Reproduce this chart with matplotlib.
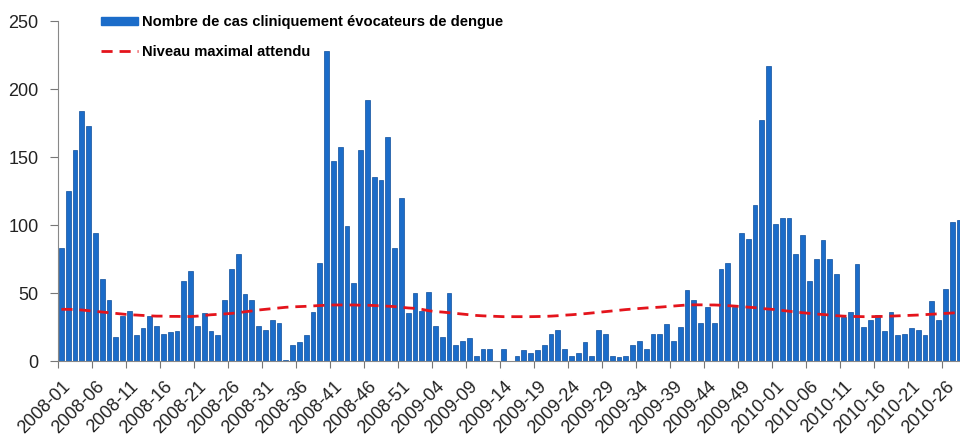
import matplotlib
matplotlib.use("Agg")
import matplotlib.pyplot as plt
from matplotlib.lines import Line2D
from matplotlib.patches import Patch

# ---- data ----
weeks_2008 = [f"2008-{w:02d}" for w in range(1, 53)]
weeks_2009 = [f"2009-{w:02d}" for w in range(1, 54)]
weeks_2010 = [f"2010-{w:02d}" for w in range(1, 29)]
weeks = weeks_2008 + weeks_2009 + weeks_2010

cases_2008 = [83, 125, 155, 184, 173, 94, 60, 45, 18, 33, 37, 19, 24, 33, 26, 20, 21, 22, 59, 66,
              26, 35, 22, 19, 45, 68, 79, 49, 45, 26, 23, 30, 28, 1, 12, 14, 19, 36, 72, 228,
              147, 157, 99, 57, 155, 192, 135, 133, 165, 83, 120, 35]
cases_2009 = [50, 37, 51, 26, 18, 50, 12, 15, 17, 4, 9, 9, 0, 9, 0, 4, 8, 6, 8, 12,
              20, 23, 9, 4, 6, 14, 4, 23, 20, 4, 3, 4, 12, 15, 9, 20, 20, 27, 15, 25,
              52, 45, 28, 40, 28, 68, 72, 40, 94, 90, 115, 177, 217]
cases_2010 = [101, 105, 105, 79, 93, 59, 75, 89, 75, 64, 32, 36, 71, 25, 30, 34, 22, 36, 19, 20,
              24, 23, 19, 44, 30, 53, 102, 104]
cases = cases_2008 + cases_2009 + cases_2010

threshold_2008 = [38, 38, 37.8, 37.5, 37, 36.5, 36, 35.5, 35, 34.5, 34, 33.8, 33.5, 33.2, 33, 33,
                  32.8, 32.8, 32.7, 32.7, 33, 33.5, 34, 34.3, 34.6, 35, 35.5, 36.2, 36.8, 37.5,
                  38, 38.5, 39, 39.5, 39.8, 40, 40.2, 40.5, 40.8, 41, 41.2, 41.2, 41.2, 41.2,
                  41, 41, 40.8, 40.5, 40.3, 40, 39.5, 39]
threshold_2009 = [38.7, 38, 37, 36.3, 36, 35.5, 35, 34.5, 34, 33.5, 33.2, 33, 32.8, 32.6, 32.6,
                  32.6, 32.6, 32.6, 32.7, 32.8, 33, 33.3, 33.7, 34, 34.4, 34.8, 35.3, 35.8, 36.3,
                  36.8, 37.3, 37.8, 38.2, 38.6, 39, 39.3, 39.6, 40, 40.4, 40.8, 41.2, 41.3, 41.3,
                  41.2, 41.2, 41, 40.7, 40.4, 40, 39.6, 39.2, 38.6, 38.2]
threshold_2010 = [37.8, 37.2, 36.6, 36, 35.5, 35, 34.5, 34.2, 33.8, 33.3, 33, 32.8, 32.7, 32.6,
                  32.6, 32.7, 32.8, 33, 33.2, 33.4, 33.6, 33.8, 34.1, 34.4, 34.7, 35, 35.3, 35.6]
threshold = threshold_2008 + threshold_2009 + threshold_2010

y_ticks = [0, 50, 100, 150, 200, 250]
label_every = 5

series_names = ["Nombre de cas cliniquement évocateurs de dengue", "Niveau maximal attendu"]

# ---- plot ----
plt.rcParams['font.family'] = ['Liberation Sans', 'DejaVu Sans']
fig = plt.figure(figsize=(9.6, 4.41), dpi=100)
ax = fig.add_axes([58 / 960, 80 / 441, 1 - 58 / 960, (361 - 21) / 441])

x = list(range(len(weeks)))
bar_color = '#1b6cc9'
ax.bar(x, cases, width=0.72, color=bar_color, edgecolor='#0f4f9c', linewidth=0.5, zorder=2)
ax.plot(x, threshold, color='#e4141c', linewidth=2.0, dashes=(4, 2.5), zorder=3)

ax.set_xlim(-0.5, 132.15)
ax.set_ylim(0, 250)
ax.set_yticks(y_ticks)
ax.tick_params(axis='y', labelsize=13, length=6, width=0.8, pad=8, color='#777777',
               labelcolor='#222222')

label_pos = list(range(0, len(weeks), label_every))
ax.set_xticks(label_pos)
ax.set_xticklabels([weeks[i] for i in label_pos], rotation=45, ha='right',
                   rotation_mode='anchor', fontsize=13, color='#222222')
ax.tick_params(axis='x', which='major', length=0, pad=12)
ax.set_xticks([i - 0.5 for i in label_pos], minor=True)
ax.tick_params(axis='x', which='minor', length=5, width=0.8, color='#777777')

for side in ['top', 'right']:
    ax.spines[side].set_visible(False)
ax.spines['left'].set_color('#888888')
ax.spines['bottom'].set_color('#888888')

handles = [Patch(facecolor=bar_color, edgecolor=bar_color),
           Line2D([0], [0], color='#e4141c', linewidth=2.0, dashes=(4, 2.5))]
leg = ax.legend(handles, series_names, loc='upper left', bbox_to_anchor=(0.033, 1.056),
                frameon=False, prop={'weight': 'bold', 'size': 10.6}, handlelength=2.5,
                handleheight=0.5, labelspacing=1.05, handletextpad=0.25)

fig.savefig('out.png', dpi=100)
